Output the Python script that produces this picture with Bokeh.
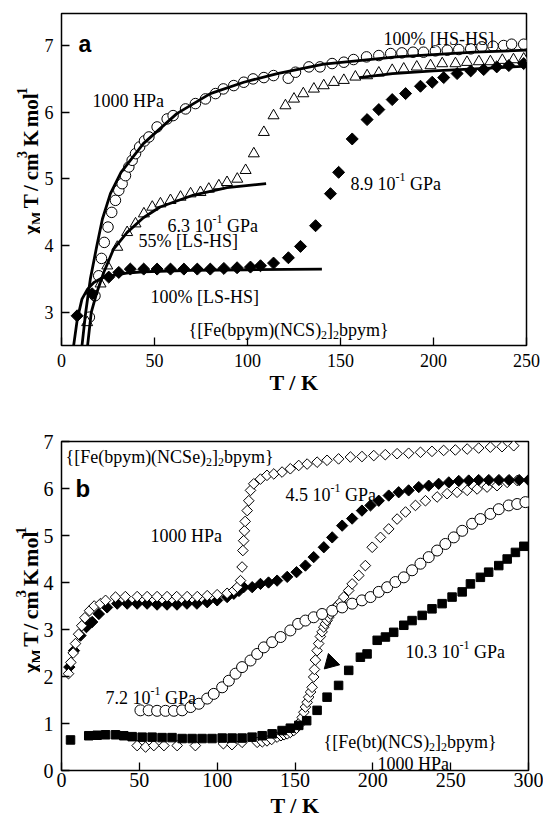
import math
from bokeh.plotting import figure
from bokeh.models import Label, FixedTicker, Range1d
from bokeh.layouts import column, row
from bokeh.embed import file_html
from bokeh.resources import INLINE

# ---------------- Panel a data ----------------
a_circ_T = [15, 18, 20, 21.5, 23, 25, 27, 29, 30.8, 32.6, 34.4, 36.2, 38, 39.8, 42, 44.6, 47, 51.4, 56.8, 60,
            66.7, 72, 77.4, 82.8, 87, 92.6, 98, 103, 108.8, 114, 121.9, 125.8, 133, 139, 145.5, 151.8, 157, 164,
            170.6, 177, 183, 189, 194.6, 201, 207.4, 213.6, 220, 226, 232, 237.7, 242, 248.5]
a_circ_v = [2.93, 3.25, 3.55, 3.81, 4.05, 4.28, 4.5, 4.68, 4.83, 4.93, 5.05, 5.18, 5.28, 5.38, 5.48, 5.57, 5.63,
            5.78, 5.9, 5.95, 6.05, 6.13, 6.2, 6.28, 6.35, 6.4, 6.45, 6.5, 6.52, 6.55, 6.51, 6.6, 6.68, 6.68, 6.73,
            6.75, 6.79, 6.83, 6.85, 6.88, 6.89, 6.9, 6.9, 6.92, 6.93, 6.94, 6.95, 6.98, 6.99, 7.0, 7.02, 7.02]

a_tri_T = [13.8, 21, 24.6, 30, 35.3, 39.8, 44.3, 48.8, 53.2, 58.6, 64, 69.4, 74.7, 79.2, 84.6, 89, 94.5, 99,
           103.4, 108.8, 114, 120.4, 125, 130, 135.7, 141, 146.4, 151.8, 158, 164.3, 170.6, 177.8, 184, 191,
           198.4, 204.7, 211.8, 218, 224.4, 230.6, 237, 243, 248.5]
a_tri_v = [2.85, 3.43, 3.7, 3.98, 4.2, 4.33, 4.48, 4.58, 4.63, 4.68, 4.73, 4.78, 4.8, 4.85, 4.9, 4.95, 5.0, 5.13,
           5.38, 5.7, 5.95, 6.1, 6.2, 6.28, 6.35, 6.4, 6.45, 6.48, 6.53, 6.55, 6.59, 6.63, 6.65, 6.68, 6.7,
           6.73, 6.73, 6.75, 6.76, 6.76, 6.78, 6.79, 6.8]

a_dia_T = [8.4, 16.5, 25.4, 30.8, 37, 44.2, 51.4, 58.6, 65.8, 73, 80, 87.3, 94.4, 101.6, 107, 114, 122, 128.5,
           136.6, 144.6, 149, 156.3, 164.3, 170.6, 177.8, 185, 193, 199.3, 205.5, 212.7, 220, 227, 234, 240.5, 248.5]
a_dia_v = [2.95, 3.28, 3.53, 3.6, 3.65, 3.65, 3.65, 3.65, 3.65, 3.65, 3.65, 3.66, 3.67, 3.68, 3.7, 3.74, 3.82,
           3.99, 4.3, 4.78, 5.1, 5.6, 5.89, 6.04, 6.19, 6.28, 6.39, 6.45, 6.52, 6.58, 6.62, 6.64, 6.68, 6.7, 6.73]

# fitted curves, panel a
a_fit1000_T = [11, 13, 15.5, 19, 22, 26.3, 32, 44, 62, 80, 98, 116, 141, 180, 222, 250]
a_fit1000_v = [2.5, 3.0, 3.5, 4.0, 4.4, 4.78, 5.1, 5.53, 5.98, 6.28, 6.45, 6.58, 6.72, 6.83, 6.9, 6.93]
a_fit63_T = [14, 16, 19, 22.7, 28, 35.3, 44, 53, 71, 89, 110]
a_fit63_v = [2.5, 3.0, 3.3, 3.6, 3.95, 4.2, 4.42, 4.58, 4.76, 4.87, 4.93]
a_fitLS_T = [6.5, 8.5, 11, 14, 17.4, 22, 26, 35, 44, 70, 100, 140]
a_fitLS_v = [2.5, 2.9, 3.2, 3.35, 3.45, 3.52, 3.55, 3.59, 3.61, 3.63, 3.64, 3.65]
a_fitHS_T = [160, 178, 200, 250]
a_fitHS_v = [6.52, 6.58, 6.62, 6.69]

# ---------------- Panel b data ----------------
b_se1000_T = [4.5, 6, 7.5, 9, 11, 13, 15, 18, 21, 25, 28.3, 34.7, 41, 48.6, 55, 61.4, 67.8, 74, 80.7, 87.2, 93.6,
              100, 106.4, 110.7, 113, 115, 116, 116.5, 117, 117.5, 118, 119.3, 120.3, 121.4, 123.5, 127.8, 132,
              136.4, 141.7, 147, 152.4, 157.8, 164.2, 170.6, 178, 185.6, 193, 200.6, 208, 215.6, 223, 230.6, 238,
              245.5, 253, 260.6, 268, 275.5, 283, 290.5]
b_se1000_v = [2.06, 2.3, 2.5, 2.7, 2.9, 3.08, 3.25, 3.4, 3.5, 3.55, 3.62, 3.69, 3.7, 3.7, 3.7, 3.7, 3.7, 3.7, 3.7,
              3.7, 3.72, 3.74, 3.77, 3.83, 3.9, 4.04, 4.33, 4.68, 4.89, 5.1, 5.3, 5.53, 5.74, 5.96, 6.1, 6.2, 6.28,
              6.31, 6.35, 6.42, 6.49, 6.52, 6.56, 6.6, 6.63, 6.67, 6.68, 6.7, 6.72, 6.74, 6.75, 6.77, 6.79, 6.81,
              6.82, 6.84, 6.86, 6.88, 6.89, 6.91]

b_se45_T = [5, 8, 12.2, 16, 19.7, 24, 29.3, 35.8, 42.2, 48.6, 55, 61.4, 67.8, 74.2, 80.6, 87, 93.6, 100, 106.4,
            110.7, 114, 117, 122.5, 127.8, 133, 138.5, 145, 151, 156.7, 162, 168.5, 173.9, 180.3, 186.7, 193,
            198.5, 203.8, 210.2, 216.6, 223, 229.5, 235.9, 242.3, 248.8, 255.2, 261.6, 268, 274.5, 281, 287.5,
            294, 300]
b_se45_v = [2.2, 2.55, 2.87, 3.05, 3.16, 3.33, 3.47, 3.55, 3.55, 3.55, 3.55, 3.53, 3.53, 3.53, 3.55, 3.55, 3.58,
            3.62, 3.69, 3.76, 3.82, 3.9, 3.9, 3.97, 4.0, 4.04, 4.12, 4.22, 4.36, 4.54, 4.75, 4.96, 5.21, 5.36,
            5.53, 5.64, 5.74, 5.85, 5.92, 5.96, 6.03, 6.06, 6.1, 6.13, 6.16, 6.17, 6.18, 6.18, 6.18, 6.18,
            6.18, 6.18]

b_circ72_T = [50.7, 56, 61.4, 66.8, 72.2, 77.5, 82.9, 88.2, 93.6, 97.8, 103.2, 107.5, 111.8, 116, 121.4, 125.7,
              130, 135.3, 140.7, 147, 152, 156.7, 162, 167.4, 173.9, 180.3, 186.7, 193, 198.5, 203.8, 209.2,
              214.5, 219.9, 225.2, 230.6, 235.9, 241.3, 246.6, 252, 257.4, 263.8, 269.1, 275.5, 280.9, 287.3,
              292.7, 298]
b_circ72_v = [1.28, 1.28, 1.27, 1.27, 1.27, 1.28, 1.35, 1.42, 1.53, 1.63, 1.77, 1.91, 2.06, 2.2, 2.34, 2.48,
              2.62, 2.73, 2.84, 2.98, 3.12, 3.19, 3.26, 3.33, 3.4, 3.47, 3.55, 3.62, 3.69, 3.8, 3.9, 4.01, 4.11,
              4.26, 4.4, 4.54, 4.68, 4.82, 4.96, 5.1, 5.25, 5.35, 5.46, 5.56, 5.64, 5.67, 5.71]

b_bt1000_T = [48.6, 54, 59.3, 65.8, 74.3, 86, 104, 109.5, 116, 125.7, 129, 132, 135, 138.5, 141, 143, 145, 147,
              149.2, 151, 152.4, 153.6, 154.6, 155.7, 156.7, 157.8, 158.8, 160, 161, 162, 162.5, 163.1, 164.2,
              165.2, 166.3, 167.4, 168.5, 169.5, 170.6, 171.7, 172.8, 174.4, 176, 177.6, 179.2, 181.3, 184.5,
              186.7, 191, 195.2, 199.6, 204.9, 210.2, 215.6, 221, 227.4, 233.8, 241.3, 247.7, 254.1, 260.6, 267,
              273.4, 279.8, 286.3, 292.7]
b_bt1000_v = [0.53, 0.5, 0.53, 0.53, 0.53, 0.53, 0.57, 0.55, 0.6, 0.6, 0.61, 0.63, 0.66, 0.71, 0.74, 0.76, 0.78,
              0.81, 0.85, 0.9, 0.96, 1.04, 1.13, 1.24, 1.35, 1.45, 1.56, 1.67, 1.77, 1.99, 2.15, 2.35, 2.55, 2.7,
              2.85, 2.95, 3.05, 3.12, 3.19, 3.26, 3.33, 3.4, 3.47, 3.52, 3.58, 3.69, 3.83, 3.97, 4.15, 4.36, 4.75,
              4.96, 5.14, 5.35, 5.5, 5.64, 5.74, 5.82, 5.89, 5.92, 5.96, 5.99, 6.03, 6.06, 6.13, 6.17]

b_sq103_T = [5.8, 17.5, 22.9, 28.3, 34.7, 40, 45.4, 51.8, 58.2, 64.6, 71, 77.5, 83.9, 90.3, 96.7, 103.2, 109.6,
             116, 122.4, 128.9, 135.3, 141.7, 147, 152.4, 157.5, 164.2, 170.6, 178, 184.5, 192, 196.3, 202.8,
             208.1, 213.4, 219.9, 225.2, 231.7, 238, 244.5, 250.9, 257.4, 262.7, 269.1, 274.4, 280.9, 286.3,
             291.6, 297]
b_sq103_v = [0.65, 0.74, 0.75, 0.76, 0.76, 0.74, 0.72, 0.71, 0.71, 0.7, 0.7, 0.68, 0.68, 0.68, 0.68, 0.69, 0.69,
             0.69, 0.71, 0.74, 0.78, 0.85, 0.9, 0.96, 1.06, 1.28, 1.56, 1.81, 2.13, 2.41, 2.48, 2.77, 2.84, 2.94,
             3.09, 3.19, 3.3, 3.44, 3.55, 3.69, 3.8, 3.97, 4.11, 4.22, 4.36, 4.5, 4.64, 4.77]

b_arrow_T = [173]
b_arrow_v = [2.3]

# tick values
a_xticks = [0, 50, 100, 150, 200, 250]
a_yticks = [3, 4, 5, 6, 7]
b_xticks = [0, 50, 100, 150, 200, 250, 300]
b_yticks = [0, 1, 2, 3, 4, 5, 6, 7]

# ---------------- helpers ----------------
SERIF = "Liberation Serif"
SANS = "Liberation Sans"
ASC = 0.891  # ascent of Liberation Serif, in em
W_REG = {' ': 250, '{': 480, '}': 480, '[': 333, ']': 333, '(': 333, ')': 333, 'F': 556, 'e': 444, 'b': 500,
         'p': 500, 'y': 500, 'm': 778, 'N': 722, 'C': 667, 'S': 556, 't': 278, '.': 250, '-': 333, 'G': 722,
         'P': 556, 'a': 444, 'H': 722, '%': 833, 'L': 611}
W_BOLD = {' ': 330, 'T': 667, '/': 278, 'c': 444, 'm': 833, 'K': 778, 'o': 500, 'l': 278, 'M': 944,
          '-': 333, '\u03c7': 560}


def tw(s, size, bold=False):
    t = W_BOLD if bold else W_REG
    return sum(t.get(ch, 500) for ch in s) * size / 1000.0


class Frame:
    """maps page pixels to data coordinates of a figure"""
    def __init__(self, left, top, w, h, x0, x1, y0, y1):
        self.left, self.top, self.w, self.h = left, top, w, h
        self.x0, self.x1, self.y0, self.y1 = x0, x1, y0, y1

    def data(self, xp, yp):
        return (self.x0 + (xp - self.left) / self.w * (self.x1 - self.x0),
                self.y1 - (yp - self.top) / self.h * (self.y1 - self.y0))


def rich(p, fr, x0, y0, pieces, bold=False, font=SERIF):
    pos = 0.0
    for text, size, shift in pieces:
        stripped = text.lstrip(" ")
        pos += tw(text[:len(text) - len(stripped)], size, bold)
        x, y = fr.data(x0 + pos, y0 - shift)
        p.add_layout(Label(x=x, y=y, text=stripped, text_font=font, text_font_size=f"{size}px",
                           text_font_style="bold" if bold else "normal", text_color="black",
                           text_align="left", text_baseline="alphabetic"))
        pos += tw(stripped, size, bold)


def vertical_rich(p, fr, xbase, y0, pieces):
    """bold title reading bottom to top; one Label per word, hung from its top edge"""
    pos = 0.0
    for text, size, shift in pieces:
        for k, word in enumerate(text.split(" ")):
            if k > 0:
                pos += tw(" ", size, True)
            if word:
                xp = xbase - shift - ASC * size
                x, y = fr.data(xp, y0 - pos)
                p.add_layout(Label(x=x, y=y, text=word, text_font=SERIF, text_font_size=f"{size}px",
                                   text_font_style="bold", text_color="black", angle=math.pi / 2,
                                   text_align="left", text_baseline="top"))
                pos += tw(word, size, True)


def simple(p, fr, xp, yp, text, size, bold=False, font=SERIF, align="left"):
    x, y = fr.data(xp, yp)
    p.add_layout(Label(x=x, y=y, text=text, text_font=font, text_font_size=f"{size}px",
                       text_font_style="bold" if bold else "normal", text_color="black",
                       text_align=align, text_baseline="alphabetic"))


def make_fig(fr, w, h, mb, xticks, yticks, tick_size, x_standoff, xlab_standoff):
    p = figure(width=w, height=h, x_range=Range1d(fr.x0, fr.x1),
               y_range=Range1d(fr.y0, fr.y1), output_backend="svg", toolbar_location=None,
               min_border_left=mb[0], min_border_top=mb[1], min_border_right=mb[2], min_border_bottom=mb[3])
    p.xgrid.visible = False
    p.ygrid.visible = False
    p.outline_line_color = "black"
    p.outline_line_width = 1.5
    p.outline_line_alpha = 1.0
    p.background_fill_color = "white"
    p.border_fill_color = "white"
    p.xaxis.ticker = FixedTicker(ticks=xticks)
    p.yaxis.ticker = FixedTicker(ticks=yticks)
    for ax in (p.xaxis[0], p.yaxis[0]):
        ax.major_tick_in = 8
        ax.major_tick_out = 0
        ax.minor_tick_in = 0
        ax.minor_tick_out = 0
        ax.axis_line_color = None
        ax.major_tick_line_color = "black"
        ax.major_tick_line_width = 1.3
        ax.major_label_text_font = SERIF
        ax.major_label_text_font_size = f"{tick_size}px"
        ax.major_label_text_color = "black"
    xa = p.xaxis[0]
    xa.major_label_standoff = x_standoff
    xa.axis_label = "T / K"
    xa.axis_label_text_font = SERIF
    xa.axis_label_text_font_style = "bold"
    xa.axis_label_text_font_size = "22px"
    xa.axis_label_text_color = "black"
    xa.axis_label_standoff = xlab_standoff
    p.yaxis[0].major_label_standoff = 8
    return p


def label_fig(h):
    # narrow strip left of a panel that holds the rotated y axis title
    f = figure(width=40, height=h, x_range=Range1d(0, 40), y_range=Range1d(0, h), output_backend="svg",
               toolbar_location=None, x_axis_location=None, y_axis_location=None,
               min_border_left=0, min_border_right=0, min_border_top=0, min_border_bottom=0)
    f.xgrid.visible = False
    f.ygrid.visible = False
    f.outline_line_color = None
    f.background_fill_color = "white"
    f.border_fill_color = "white"
    return f


def ylabel(p, fr, center_y, size, xbase=37):
    sub = round(size * 0.66)
    pieces = [("\u03c7", size, 0), ("M", sub, -5), (" T / cm", size, 0), ("3", sub, 8),
              (" K mol", size, 0), ("-1", sub, 8)]
    total = sum(tw(t, s, True) for t, s, _ in pieces)
    vertical_rich(p, fr, xbase, center_y + total / 2, pieces)


def sup_label(p, fr, x, y, a, b, size=18):
    rich(p, fr, x, y, [(a, size, 0), ("-1", 12, 7), (b, size, 0)])


def formula(p, fr, x, y, parts, size=18):
    rich(p, fr, x, y, [(t, 12 if s else size, -5 if s else 0) for t, s in parts])


# ---------------- Panel a ----------------
fa = Frame(61, 13, 465, 332, 0, 250, 2.505, 7.48)
pa = make_fig(fa, 503, 400, (21, 13, 17, 55), a_xticks, a_yticks, 18, 8, 0)
la = label_fig(400)
fla = Frame(0, 0, 40, 400, 0, 40, 0, 400)

pa.scatter(a_circ_T, a_circ_v, marker="circle", size=10.5, fill_color="white", line_color="black", line_width=1)
pa.scatter(a_tri_T, a_tri_v, marker="triangle", size=11, fill_color="white", line_color="black", line_width=1)
pa.scatter(a_dia_T, a_dia_v, marker="square", angle=math.pi / 4, size=8.5, fill_color="black", line_color="black")
for tx, vy in ((a_fit1000_T, a_fit1000_v), (a_fit63_T, a_fit63_v), (a_fitLS_T, a_fitLS_v), (a_fitHS_T, a_fitHS_v)):
    pa.line(tx, vy, line_color="black", line_width=2.8)

simple(pa, fa, 78, 43, "a", 23, bold=True, font=SANS)
simple(pa, fa, 92, 100, "1000 HPa", 18)
sup_label(pa, fa, 167, 225, "6.3 10", " GPa")
simple(pa, fa, 138, 240, "55% [LS-HS]", 18)
simple(pa, fa, 150, 296, "100% [LS-HS]", 18)
simple(pa, fa, 383, 38, "100% [HS-HS]", 18)
sup_label(pa, fa, 350, 183, "8.9 10", " GPa")
formula(pa, fa, 188, 329, [("{[Fe(bpym)(NCS)", False), ("2", True), ("]", False), ("2", True), ("bpym}", False)])
ylabel(la, fla, 179, 21)

# ---------------- Panel b ----------------
fb = Frame(61, 441, 467, 329, 0, 300, 0, 7)
pb = make_fig(fb, 503, 422, (21, 41, 15, 52), b_xticks, b_yticks, 20, 2, 3)
lb = label_fig(422)
flb = Frame(0, 400, 40, 422, 0, 40, 0, 422)

pb.scatter(b_bt1000_T, b_bt1000_v, marker="square", angle=math.pi / 4, size=7.5, fill_color="white",
           line_color="black", line_width=1)
pb.scatter(b_sq103_T, b_sq103_v, marker="square", size=8.5, fill_color="black", line_color="black")
pb.scatter(b_circ72_T, b_circ72_v, marker="circle", size=11, fill_color="white", line_color="black", line_width=1)
pb.scatter(b_se45_T, b_se45_v, marker="square", angle=math.pi / 4, size=8, fill_color="black", line_color="black")
pb.scatter(b_se1000_T, b_se1000_v, marker="square", angle=math.pi / 4, size=7.5, fill_color="white",
           line_color="black", line_width=1)
pb.scatter(b_arrow_T, b_arrow_v, marker="triangle", angle=math.pi * 0.75, size=16, fill_color="black",
           line_color="black")

formula(pb, fb, 65, 456, [("{[Fe(bpym)(NCSe)", False), ("2", True), ("]", False), ("2", True), ("bpym}", False)])
simple(pb, fb, 75, 488, "b", 24, bold=True, font=SANS)
simple(pb, fb, 150, 535, "1000 HPa", 18)
sup_label(pb, fb, 285, 494, "4.5 10", " GPa")
sup_label(pb, fb, 105, 697, "7.2 10", " GPa")
sup_label(pb, fb, 405, 651, "10.3 10", " GPa")
formula(pb, fb, 323, 741, [("{[Fe(bt)(NCS)", False), ("2", True), ("]", False), ("2", True), ("bpym}", False)])
simple(pb, fb, 377, 763, "1000 HPa", 18)
ylabel(lb, flb, 605, 22)

layout = column(row(la, pa, spacing=0), row(lb, pb, spacing=0), spacing=0)
open("out.html", "w").write(file_html(layout, INLINE))
